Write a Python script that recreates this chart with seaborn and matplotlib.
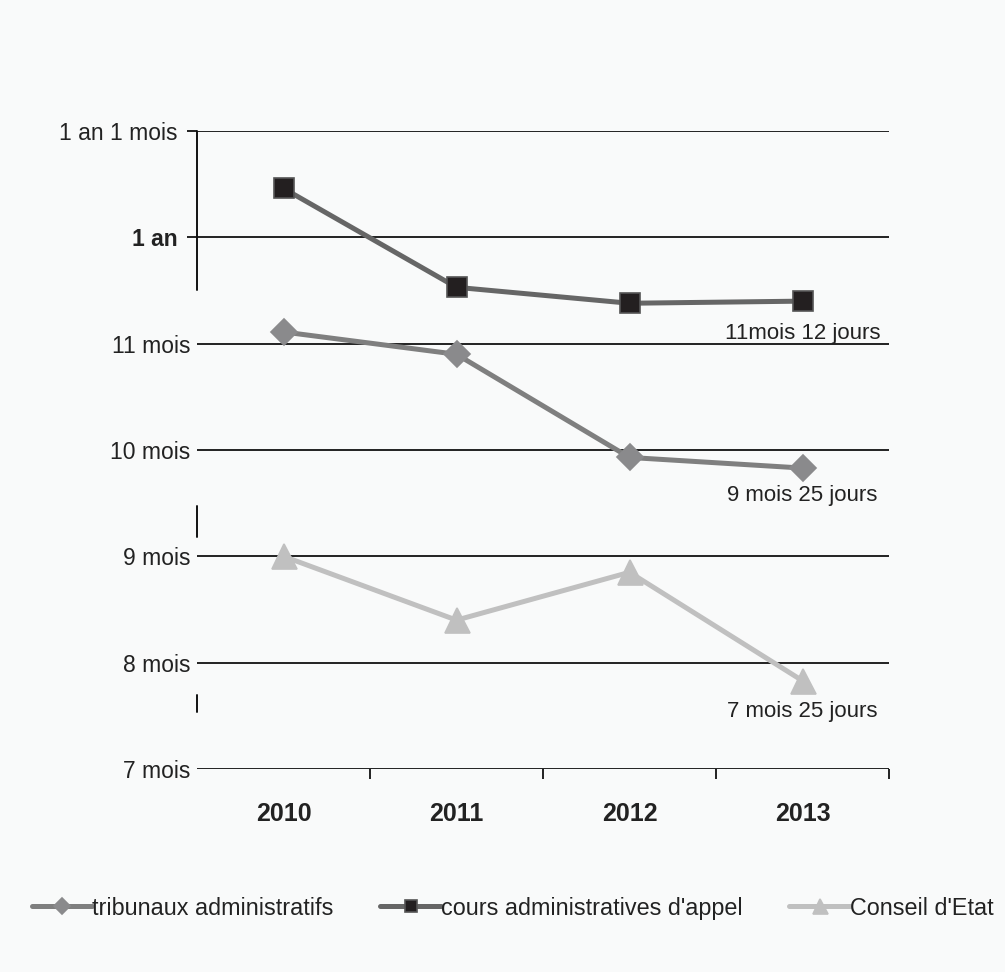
import matplotlib
matplotlib.use("Agg")
import matplotlib.pyplot as plt
import seaborn as sns
import pandas as pd

# ---------------- data ----------------
annees = ["2010", "2011", "2012", "2013"]
tribunaux = [11.11, 10.90, 9.93, 9.83]
cours = [12.46, 11.53, 11.38, 11.40]
conseil = [9.00, 8.40, 8.85, 7.83]
series_noms = ["tribunaux administratifs", "cours administratives d'appel", "Conseil d'Etat"]
ytick_vals = [7, 8, 9, 10, 11, 12, 13]
ytick_labels = ["7 mois", "8 mois", "9 mois", "10 mois", "11 mois", "1 an", "1 an 1 mois"]
annotations = ["9 mois 25 jours", "11mois 12 jours", "7 mois 25 jours"]

df = pd.DataFrame({
    "annee": annees * 3,
    "valeur": tribunaux + cours + conseil,
    "serie": [series_noms[0]] * 4 + [series_noms[1]] * 4 + [series_noms[2]] * 4,
})

sns.set_theme(style="white")
bg = "#f9fafa"
plt.rcParams["font.family"] = ["Liberation Sans", "DejaVu Sans"]

fig = plt.figure(figsize=(10.05, 9.72), dpi=100, facecolor=bg)
ax = fig.add_axes([197 / 1005, 1 - 769 / 972, (889 - 197) / 1005, (769 - 131) / 972])
ax.set_facecolor(bg)

styles = {
    series_noms[0]: dict(color="#7f7f7f", marker="D", markersize=13, mfc="#8a8a8c", mec="#8a8a8c"),
    series_noms[1]: dict(color="#666666", marker="s", markersize=15, mfc="#231f20", mec="#555555"),
    series_noms[2]: dict(color="#c0c0c0", marker="^", markersize=18, mfc="#c0c0c0", mec="#c0c0c0"),
}

for nom in series_noms:
    st = styles[nom]
    sub = df[df["serie"] == nom]
    sns.lineplot(data=sub, x="annee", y="valeur", ax=ax, color=st["color"], lw=3.6,
                 marker=st["marker"], markersize=st["markersize"],
                 markerfacecolor=st["mfc"], markeredgecolor=st["mec"], markeredgewidth=1.2,
                 label=nom, legend=False, zorder=3)

ax.set_xlim(-0.5, 3.5)
ax.set_ylim(7, 13)
ax.set_xlabel("")
ax.set_ylabel("")

# gridlines
for v in ytick_vals:
    ax.axhline(v, color="#111111", lw=1.3, zorder=1)
ax.hlines([12, 13], -0.56, -0.5, color="#111111", lw=1.3, clip_on=False)

for s in ["top", "right", "left", "bottom"]:
    ax.spines[s].set_visible(False)
for lo, hi in [(0.751, 1.0), (0.364, 0.412), (0.089, 0.116)]:
    ax.axvline(-0.5, ymin=lo, ymax=hi, color="#111111", lw=1.4, clip_on=False)

ax.set_yticks(ytick_vals)
ax.set_yticklabels(ytick_labels)
ax.tick_params(axis="y", length=0, pad=5, labelsize=16.5, colors="#222222")
for tick, v in zip(ax.yaxis.get_major_ticks(), ytick_vals):
    if v >= 12:
        tick.set_pad(14)
for lab in ax.get_yticklabels():
    if lab.get_text() == "1 an":
        lab.set_fontweight("bold")

ax.set_xticks(range(len(annees)))
ax.set_xticklabels(annees)
ax.set_xticks([0.5, 1.5, 2.5, 3.5], minor=True)
ax.tick_params(axis="x", which="major", length=0, pad=24, labelsize=18, colors="#222222")
ax.tick_params(axis="x", which="minor", length=7, width=1.3, color="#111111", bottom=True, direction="out")
for lab in ax.get_xticklabels():
    lab.set_fontweight("bold")

# annotations under 2013 points
for vals, txt, dy in [(tribunaux, annotations[0], -20), (cours, annotations[1], -23), (conseil, annotations[2], -22)]:
    ax.annotate(txt, xy=(3, vals[-1]), xytext=(0, dy), textcoords="offset points",
                ha="center", va="center", fontsize=16, color="#222222")

handles, labels = ax.get_legend_handles_labels()
leg = fig.legend(handles, labels, loc="center", bbox_to_anchor=(0.51, 1 - 908 / 972), ncol=3,
                 frameon=False, handlelength=2.6, handletextpad=0.0, columnspacing=2.0,
                 prop={"size": 16.8}, markerscale=0.6, borderpad=0, borderaxespad=0)
for t in leg.get_texts():
    t.set_color("#222222")

fig.savefig("out.png", dpi=100, facecolor=bg)
